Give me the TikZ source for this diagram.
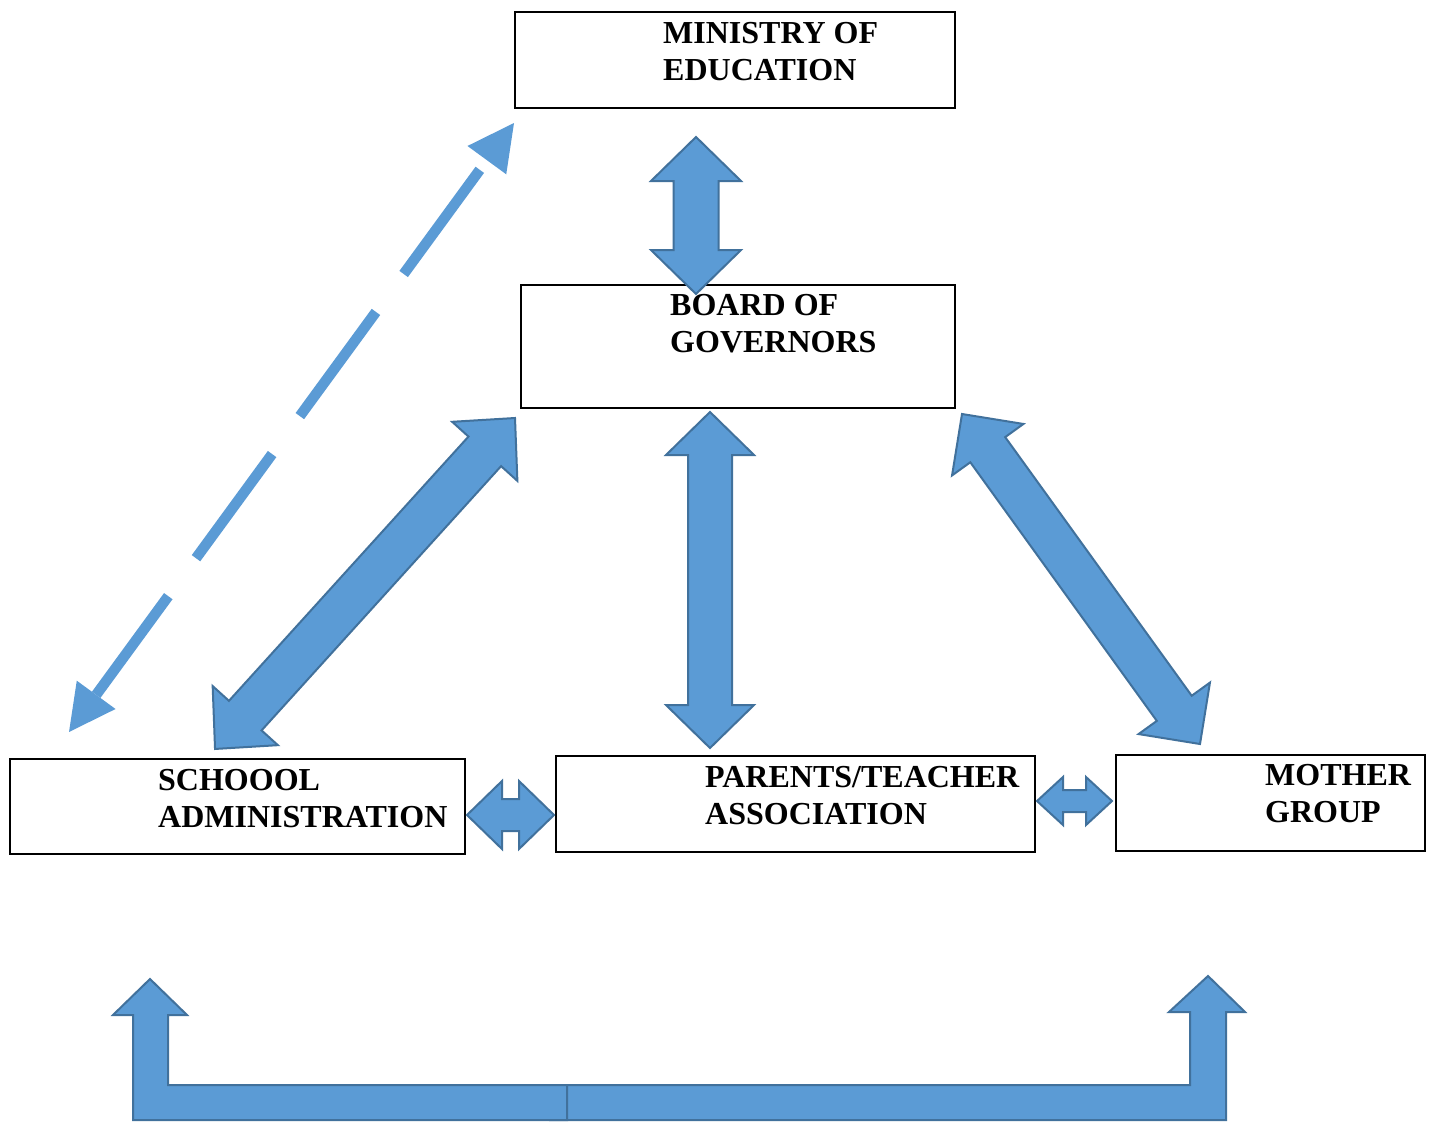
\documentclass[tikz,border=0pt]{standalone}
\usepackage{fontspec}
\setmainfont{Liberation Serif}
\usetikzlibrary{calc}

\definecolor{arrowfill}{HTML}{5B9BD5}
\definecolor{arrowline}{HTML}{41719C}

\tikzset{
  box/.style={draw=black, line width=1.8pt, inner sep=0pt},
  lbl/.style={anchor=north west, align=left, inner sep=0pt,
              font=\bfseries\fontsize{32}{37}\selectfont},
  blockarrow/.style={fill=arrowfill, draw=arrowline, line width=2pt, line join=miter},
  dashshaft/.style={draw=arrowfill, line width=10.5pt, dash pattern=on 129pt off 47pt},
  dashhead/.style={fill=arrowfill},
}

% Block double arrow between two tips:
% #1 tip A, #2 tip B, #3 shaft half-width, #4 head half-width, #5 head length
\newcommand{\dblarrow}[5]{%
  \draw[blockarrow] let \p1=(#1), \p2=(#2),
      \n1={atan2(\y2-\y1,\x2-\x1)}, \n2={veclen(\x2-\x1,\y2-\y1)} in
    [shift={(\p1)}, rotate=\n1]
    (0,0) -- (#5,#4) -- (#5,#3) -- ({\n2-#5},#3) -- ({\n2-#5},#4) -- (\n2,0)
    -- ({\n2-#5},-#4) -- ({\n2-#5},-#3) -- (#5,-#3) -- (#5,-#4) -- cycle;
}

\begin{document}
\begin{tikzpicture}[x=1pt, y=-1pt]
  \fill[white] (0,0) rectangle (1432,1122);
  \useasboundingbox (0,0) rectangle (1432,1122);

  % organisation boxes
  \node[box, minimum width=440pt, minimum height=96pt]  (moe) at (735,60) {};
  \node[box, minimum width=434pt, minimum height=123pt] (bog) at (738,346.5) {};
  \node[box, minimum width=455pt, minimum height=95pt]  (sch) at (237.5,806.5) {};
  \node[box, minimum width=479pt, minimum height=96pt]  (pta) at (795.5,804) {};
  \node[box, minimum width=309pt, minimum height=96pt]  (mog) at (1270.5,803) {};

  % arrow end points
  \coordinate (moe-s) at (696,137);
  \coordinate (bog-n) at (696,294);
  \coordinate (bog-s) at (710,412);
  \coordinate (pta-n) at (710,748);
  \coordinate (bog-sw) at (515,418);
  \coordinate (sch-ne) at (215,749);
  \coordinate (bog-se) at (962,414);
  \coordinate (mog-nw) at (1200,744);
  \coordinate (sch-e) at (467,815);
  \coordinate (pta-w) at (554,815);
  \coordinate (pta-e) at (1037,801);
  \coordinate (mog-w) at (1112,801);
  \coordinate (moe-sw) at (514,123);
  \coordinate (sch-n) at (69,732);

  % solid two-way links
  \dblarrow{moe-s}{bog-n}{22.5}{45}{44}
  \dblarrow{bog-s}{pta-n}{22}{44}{43}
  \dblarrow{bog-sw}{sch-ne}{22}{44}{45}
  \dblarrow{bog-se}{mog-nw}{21.5}{44}{44}
  \dblarrow{sch-e}{pta-w}{16}{34}{35}
  \dblarrow{pta-e}{mog-w}{11}{24}{26}

  % dashed two-way link
  \fill[dashhead] let \p1=(moe-sw), \p2=(sch-n),
      \n1={atan2(\y2-\y1,\x2-\x1)}, \n2={veclen(\x2-\x1,\y2-\y1)} in
    [shift={(\p1)}, rotate=\n1]
    (0,0) -- (46,24) -- (46,-24) -- cycle
    (\n2,0) -- ({\n2-46},24) -- ({\n2-46},-24) -- cycle;
  \draw[dashshaft] let \p1=(moe-sw), \p2=(sch-n),
      \n1={atan2(\y2-\y1,\x2-\x1)}, \n2={veclen(\x2-\x1,\y2-\y1)} in
    [shift={(\p1)}, rotate=\n1]
    (58,0) -- ({\n2-46},0);

  % bottom bent arrows
  \draw[blockarrow] (550,1085) -- (1190,1085) -- (1190,1012) -- (1169,1012)
    -- (1208,976) -- (1245,1012) -- (1226,1012) -- (1226,1120) -- (550,1120) -- cycle;
  \draw[blockarrow] (133,1120) -- (133,1015) -- (113,1015) -- (150,979)
    -- (187,1015) -- (168,1015) -- (168,1085) -- (567,1085) -- (567,1120) -- cycle;

  % labels
  \node[lbl] (moe-t) at (663,22.5) {MINISTRY OF\\EDUCATION};
  \node[lbl] (bog-t) at (670,294.5) {BOARD OF\\GOVERNORS};
  \node[lbl] (sch-t) at (158,769.5) {SCHOOOL\\ADMINISTRATION};
  \node[lbl] (pta-t) at (705,766.5) {PARENTS/TEACHER\\ASSOCIATION};
  \node[lbl] (mog-t) at (1265,764.5) {MOTHER\\GROUP};
\end{tikzpicture}
\end{document}
